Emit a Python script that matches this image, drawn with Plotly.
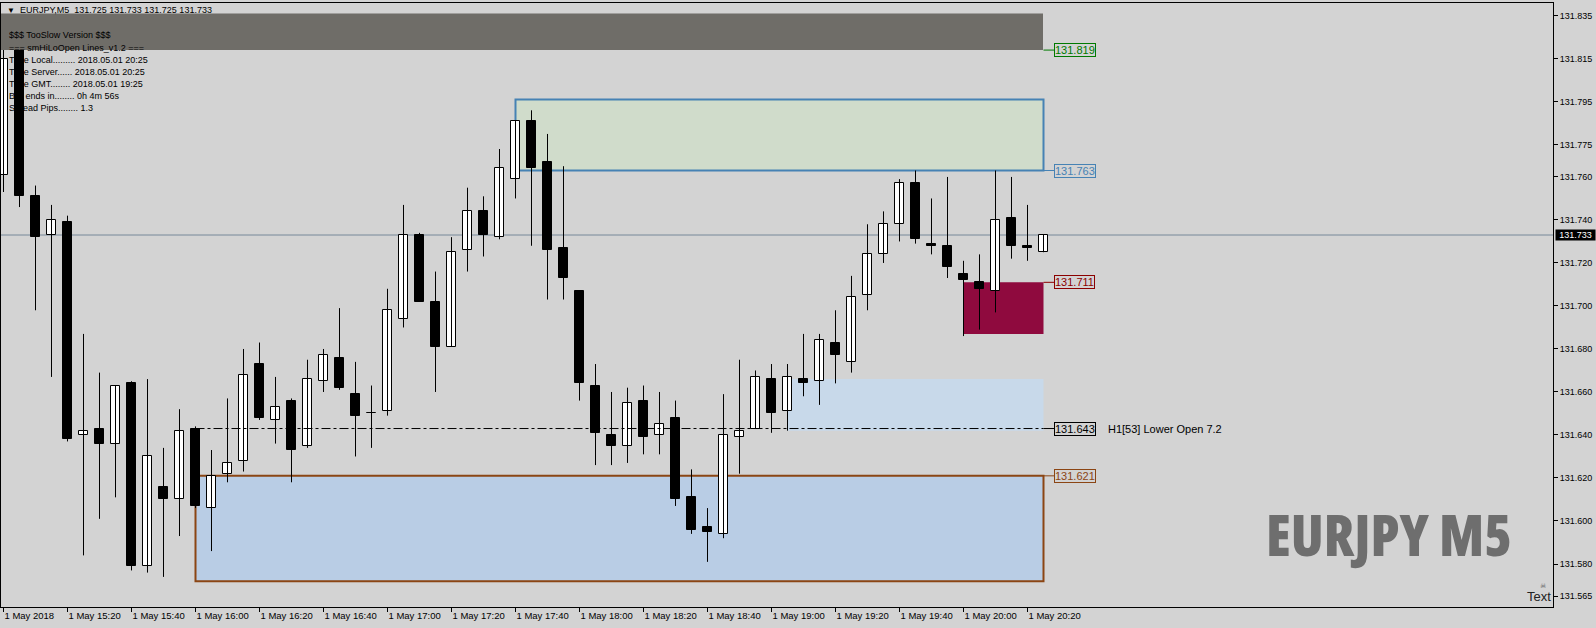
import pandas as pd
import plotly.graph_objects as go

# ---------------- data ----------------
times = pd.date_range("2018-05-01 15:00", periods=66, freq="5min")

opens = [131.761, 131.821, 131.751, 131.733, 131.739, 131.640, 131.643, 131.636, 131.664, 131.579,
         131.616, 131.610, 131.643, 131.606, 131.622, 131.628, 131.673, 131.647, 131.656, 131.635,
         131.665, 131.676, 131.659, 131.650, 131.651, 131.694, 131.733, 131.702, 131.681, 131.726,
         131.744, 131.732, 131.759, 131.786, 131.767, 131.727, 131.707, 131.663, 131.640, 131.635,
         131.656, 131.640, 131.648, 131.611, 131.597, 131.594, 131.639, 131.643, 131.666, 131.651,
         131.666, 131.665, 131.683, 131.674, 131.705, 131.724, 131.738, 131.757, 131.729, 131.728,
         131.715, 131.711, 131.707, 131.741, 131.728, 131.725]
highs = [131.826, 131.828, 131.756, 131.747, 131.742, 131.687, 131.669, 131.663, 131.665, 131.666,
         131.634, 131.652, 131.644, 131.633, 131.657, 131.680, 131.683, 131.667, 131.657, 131.675,
         131.680, 131.699, 131.674, 131.663, 131.708, 131.747, 131.734, 131.716, 131.732, 131.755,
         131.751, 131.773, 131.786, 131.791, 131.780, 131.765, 131.707, 131.673, 131.660, 131.662,
         131.663, 131.660, 131.656, 131.624, 131.606, 131.659, 131.675, 131.670, 131.673, 131.673,
         131.687, 131.687, 131.698, 131.714, 131.738, 131.744, 131.759, 131.763, 131.750, 131.760,
         131.721, 131.724, 131.763, 131.760, 131.747, 131.733]
lows = [131.753, 131.746, 131.698, 131.667, 131.637, 131.584, 131.601, 131.611, 131.577, 131.576,
        131.574, 131.593, 131.606, 131.586, 131.618, 131.623, 131.647, 131.636, 131.618, 131.634,
        131.660, 131.661, 131.630, 131.634, 131.649, 131.690, 131.702, 131.660, 131.681, 131.716,
        131.723, 131.731, 131.750, 131.728, 131.703, 131.703, 131.656, 131.626, 131.626, 131.627,
        131.631, 131.631, 131.607, 131.594, 131.581, 131.592, 131.622, 131.643, 131.641, 131.642,
        131.658, 131.654, 131.664, 131.669, 131.698, 131.720, 131.730, 131.729, 131.724, 131.713,
        131.686, 131.689, 131.697, 131.722, 131.721, 131.725]
closes = [131.815, 131.751, 131.732, 131.740, 131.638, 131.642, 131.636, 131.663, 131.579, 131.630,
          131.610, 131.642, 131.607, 131.621, 131.627, 131.668, 131.648, 131.653, 131.633, 131.666,
          131.677, 131.662, 131.649, 131.650, 131.698, 131.733, 131.702, 131.681, 131.725, 131.744,
          131.733, 131.764, 131.786, 131.764, 131.726, 131.713, 131.664, 131.641, 131.635, 131.655,
          131.639, 131.645, 131.610, 131.596, 131.595, 131.640, 131.642, 131.667, 131.650, 131.667,
          131.664, 131.684, 131.677, 131.704, 131.724, 131.738, 131.757, 131.731, 131.728, 131.718,
          131.712, 131.708, 131.740, 131.728, 131.727, 131.733]

bid_price = 131.733
header_text = "EURJPY,M5\u00a0\u00a0131.725 131.733 131.725 131.733"
info_lines = [
    "$$$ TooSlow Version $$$",
    "=== smHiLoOpen Lines_v1.2 ===",
    "Time Local......... 2018.05.01 20:25",
    "Time Server...... 2018.05.01 20:25",
    "Time GMT........ 2018.05.01 19:25",
    "Bar ends in........ 0h 4m 56s",
    "Spread Pips........ 1.3",
]

ytick_vals = [131.835, 131.815, 131.795, 131.775, 131.760, 131.740, 131.720, 131.700,
              131.680, 131.660, 131.640, 131.620, 131.600, 131.580, 131.565]
xtick_times = pd.date_range("2018-05-01 15:00", "2018-05-01 20:20", freq="20min")
xtick_text = ["1 May 2018"] + [f"1 May {t:%H:%M}" for t in xtick_times[1:]]

# levels / zones
band_top, band_bot = 131.836, 131.819
supply_top, supply_bot = 131.796, 131.763
red_top, red_bot = 131.711, 131.687
light_top, light_bot = 131.666, 131.642
lower_open = 131.643
demand_top, demand_bot = 131.621, 131.572
lower_open_text = "H1[53] Lower Open 7.2"
symbol_text = "EURJPY M5"

# ---------------- layout geometry ----------------
W, H = 1596, 628
ML, MR, MT, MB = 1, 43, 3, 21
PW, PH = W - ML - MR, H - MT - MB
BAR_PX = 16.0
step = pd.Timedelta(minutes=5)
x_start = times[0] - step * (2.5 / BAR_PX)
x_end = x_start + step * (PW / BAR_PX)
y_lo, y_hi = 131.5600, 131.8409

BG = "#D3D3D3"
FONT = "Liberation Sans, Arial, sans-serif"


def px(xp):
    return (xp - ML) / PW


def py(yp):
    return (H - MB - yp) / PH


fig = go.Figure()

# wicks
wx, wy = [], []
for t, h, l in zip(times, highs, lows):
    wx += [t, t, None]
    wy += [l, h, None]
fig.add_trace(go.Scatter(x=wx, y=wy, mode="lines", line=dict(color="black", width=1),
                         hoverinfo="skip", showlegend=False))

# bodies
bases, heights, colors = [], [], []
for o, c in zip(opens, closes):
    lo_, hi_ = min(o, c), max(o, c)
    bases.append(lo_)
    heights.append(max(hi_ - lo_, 0.0003))
    colors.append("white" if c > o else "black")
fig.add_trace(go.Bar(x=times, y=heights, base=bases, width=0.62 * 300000,
                     marker=dict(color=colors, line=dict(color="black", width=1)),
                     hoverinfo="skip", showlegend=False))

t_last = times[-1]
shapes = []
# bid line
shapes.append(dict(type="line", xref="paper", x0=0, x1=1, yref="y", y0=bid_price, y1=bid_price,
                   line=dict(color="#778899", width=1), layer="below"))
# zones
shapes.append(dict(type="rect", xref="x", x0=times[32], x1=t_last, yref="y", y0=supply_bot, y1=supply_top,
                   fillcolor="#D0DCCB", line=dict(color="#4682B4", width=2), layer="below"))
shapes.append(dict(type="rect", xref="x", x0=times[12], x1=t_last, yref="y", y0=demand_bot, y1=demand_top,
                   fillcolor="#B9CDE5", line=dict(color="#8B4513", width=2), layer="below"))
shapes.append(dict(type="rect", xref="x", x0=times[49], x1=t_last, yref="y", y0=light_bot, y1=light_top,
                   fillcolor="#C8D9EA", line=dict(width=0), layer="below"))
shapes.append(dict(type="rect", xref="x", x0=times[60], x1=t_last, yref="y", y0=red_bot, y1=red_top,
                   fillcolor="#8F0A3E", line=dict(width=0), layer="below"))
shapes.append(dict(type="line", xref="x", x0=times[12], x1=t_last, yref="y", y0=lower_open, y1=lower_open,
                   line=dict(color="black", width=1, dash="dashdot"), layer="above"))
# top grey band
shapes.append(dict(type="rect", xref="paper", x0=0, x1=px(1043), yref="y", y0=band_bot, y1=band_top,
                   fillcolor="#6F6D68", line=dict(width=0), layer="above"))

annotations = []
# header
annotations.append(dict(xref="paper", yref="paper", x=px(5), y=py(10), xanchor="left", yanchor="middle",
                        showarrow=False,
                        text="<span style='font-size:8px'>\u25BC</span>\u00a0\u00a0" + header_text,
                        font=dict(family=FONT, size=9, color="black")))
info_y = [35, 48, 60, 72, 84, 96, 108]
for line, yy in zip(info_lines, info_y):
    annotations.append(dict(xref="paper", yref="paper", x=px(7), y=py(yy), xanchor="left", yanchor="middle",
                            showarrow=False, text=line, font=dict(family=FONT, size=9, color="black")))

# level labels
for lvl, col in [(band_bot, "#007A00"), (supply_bot, "#4682B4"), (red_top, "#8B0000"),
                 (lower_open, "black"), (demand_top, "#8B4513")]:
    annotations.append(dict(xref="x", yref="y", x=t_last, y=lvl, ax=31, ay=0, axref="pixel", ayref="pixel",
                            showarrow=True, arrowhead=0, arrowwidth=1, arrowcolor=col, standoff=0,
                            text=f"{lvl:.3f}", font=dict(family=FONT, size=11, color=col),
                            bordercolor=col, borderwidth=1, borderpad=0, bgcolor=BG))
annotations.append(dict(xref="paper", yref="y", x=px(1106), y=lower_open, xanchor="left", yanchor="middle",
                        showarrow=False, text=lower_open_text, font=dict(family=FONT, size=11, color="black")))

# bid label on price axis
annotations.append(dict(xref="paper", yref="y", x=1.0, y=bid_price, xanchor="left", yanchor="middle",
                        xshift=2, showarrow=False, text=f"{bid_price:.3f}", width=39, height=10,
                        font=dict(family=FONT, size=9, color="white"), bgcolor="black", borderpad=0))

# big symbol text (condensed heavy face)
annotations.append(dict(xref="paper", yref="paper", x=px(1389), y=py(534), xanchor="center", yanchor="middle",
                        showarrow=False,
                        text="<span style='font-stretch:62.5%;font-weight:800'>" + symbol_text + "</span>",
                        font=dict(family="Open Sans, DejaVu Sans Condensed, sans-serif",
                                  size=56, color="#6E6E6E")))
# "Text" object with icon
annotations.append(dict(xref="paper", yref="paper", x=1.0, y=py(606), xanchor="right", yanchor="bottom",
                        showarrow=False, text="Text", font=dict(family=FONT, size=13, color="#222222")))
annotations.append(dict(xref="paper", yref="paper", x=px(1543), y=py(586), xanchor="center", yanchor="middle",
                        showarrow=False, text="\u2620", font=dict(family="DejaVu Sans", size=7, color="#555555")))

fig.update_layout(
    width=W, height=H,
    margin=dict(l=ML, r=MR, t=MT, b=MB, pad=0),
    paper_bgcolor=BG, plot_bgcolor=BG,
    shapes=shapes, annotations=annotations,
    showlegend=False, bargap=0,
    font=dict(family=FONT, size=9, color="black"),
    xaxis=dict(type="date", range=[x_start, x_end], showgrid=False, zeroline=False,
               showline=True, mirror=True, linecolor="black", linewidth=1,
               tickvals=list(xtick_times), ticktext=xtick_text, ticks="outside", ticklen=4,
               tickcolor="black", tickfont=dict(family=FONT, size=9.5, color="black"),
               ticklabelposition="outside right", rangeslider=dict(visible=False), fixedrange=True),
    yaxis=dict(range=[y_lo, y_hi], side="right", showgrid=False, zeroline=False,
               showline=True, mirror=True, linecolor="black", linewidth=1,
               tickvals=ytick_vals, ticktext=[f"{v:.3f}" for v in ytick_vals], ticks="outside", ticklen=4,
               tickcolor="black", tickfont=dict(family=FONT, size=9, color="black"), fixedrange=True),
)

fig.write_html("out.html", config={"displayModeBar": False},
               post_script="document.body.style.margin='0';")
